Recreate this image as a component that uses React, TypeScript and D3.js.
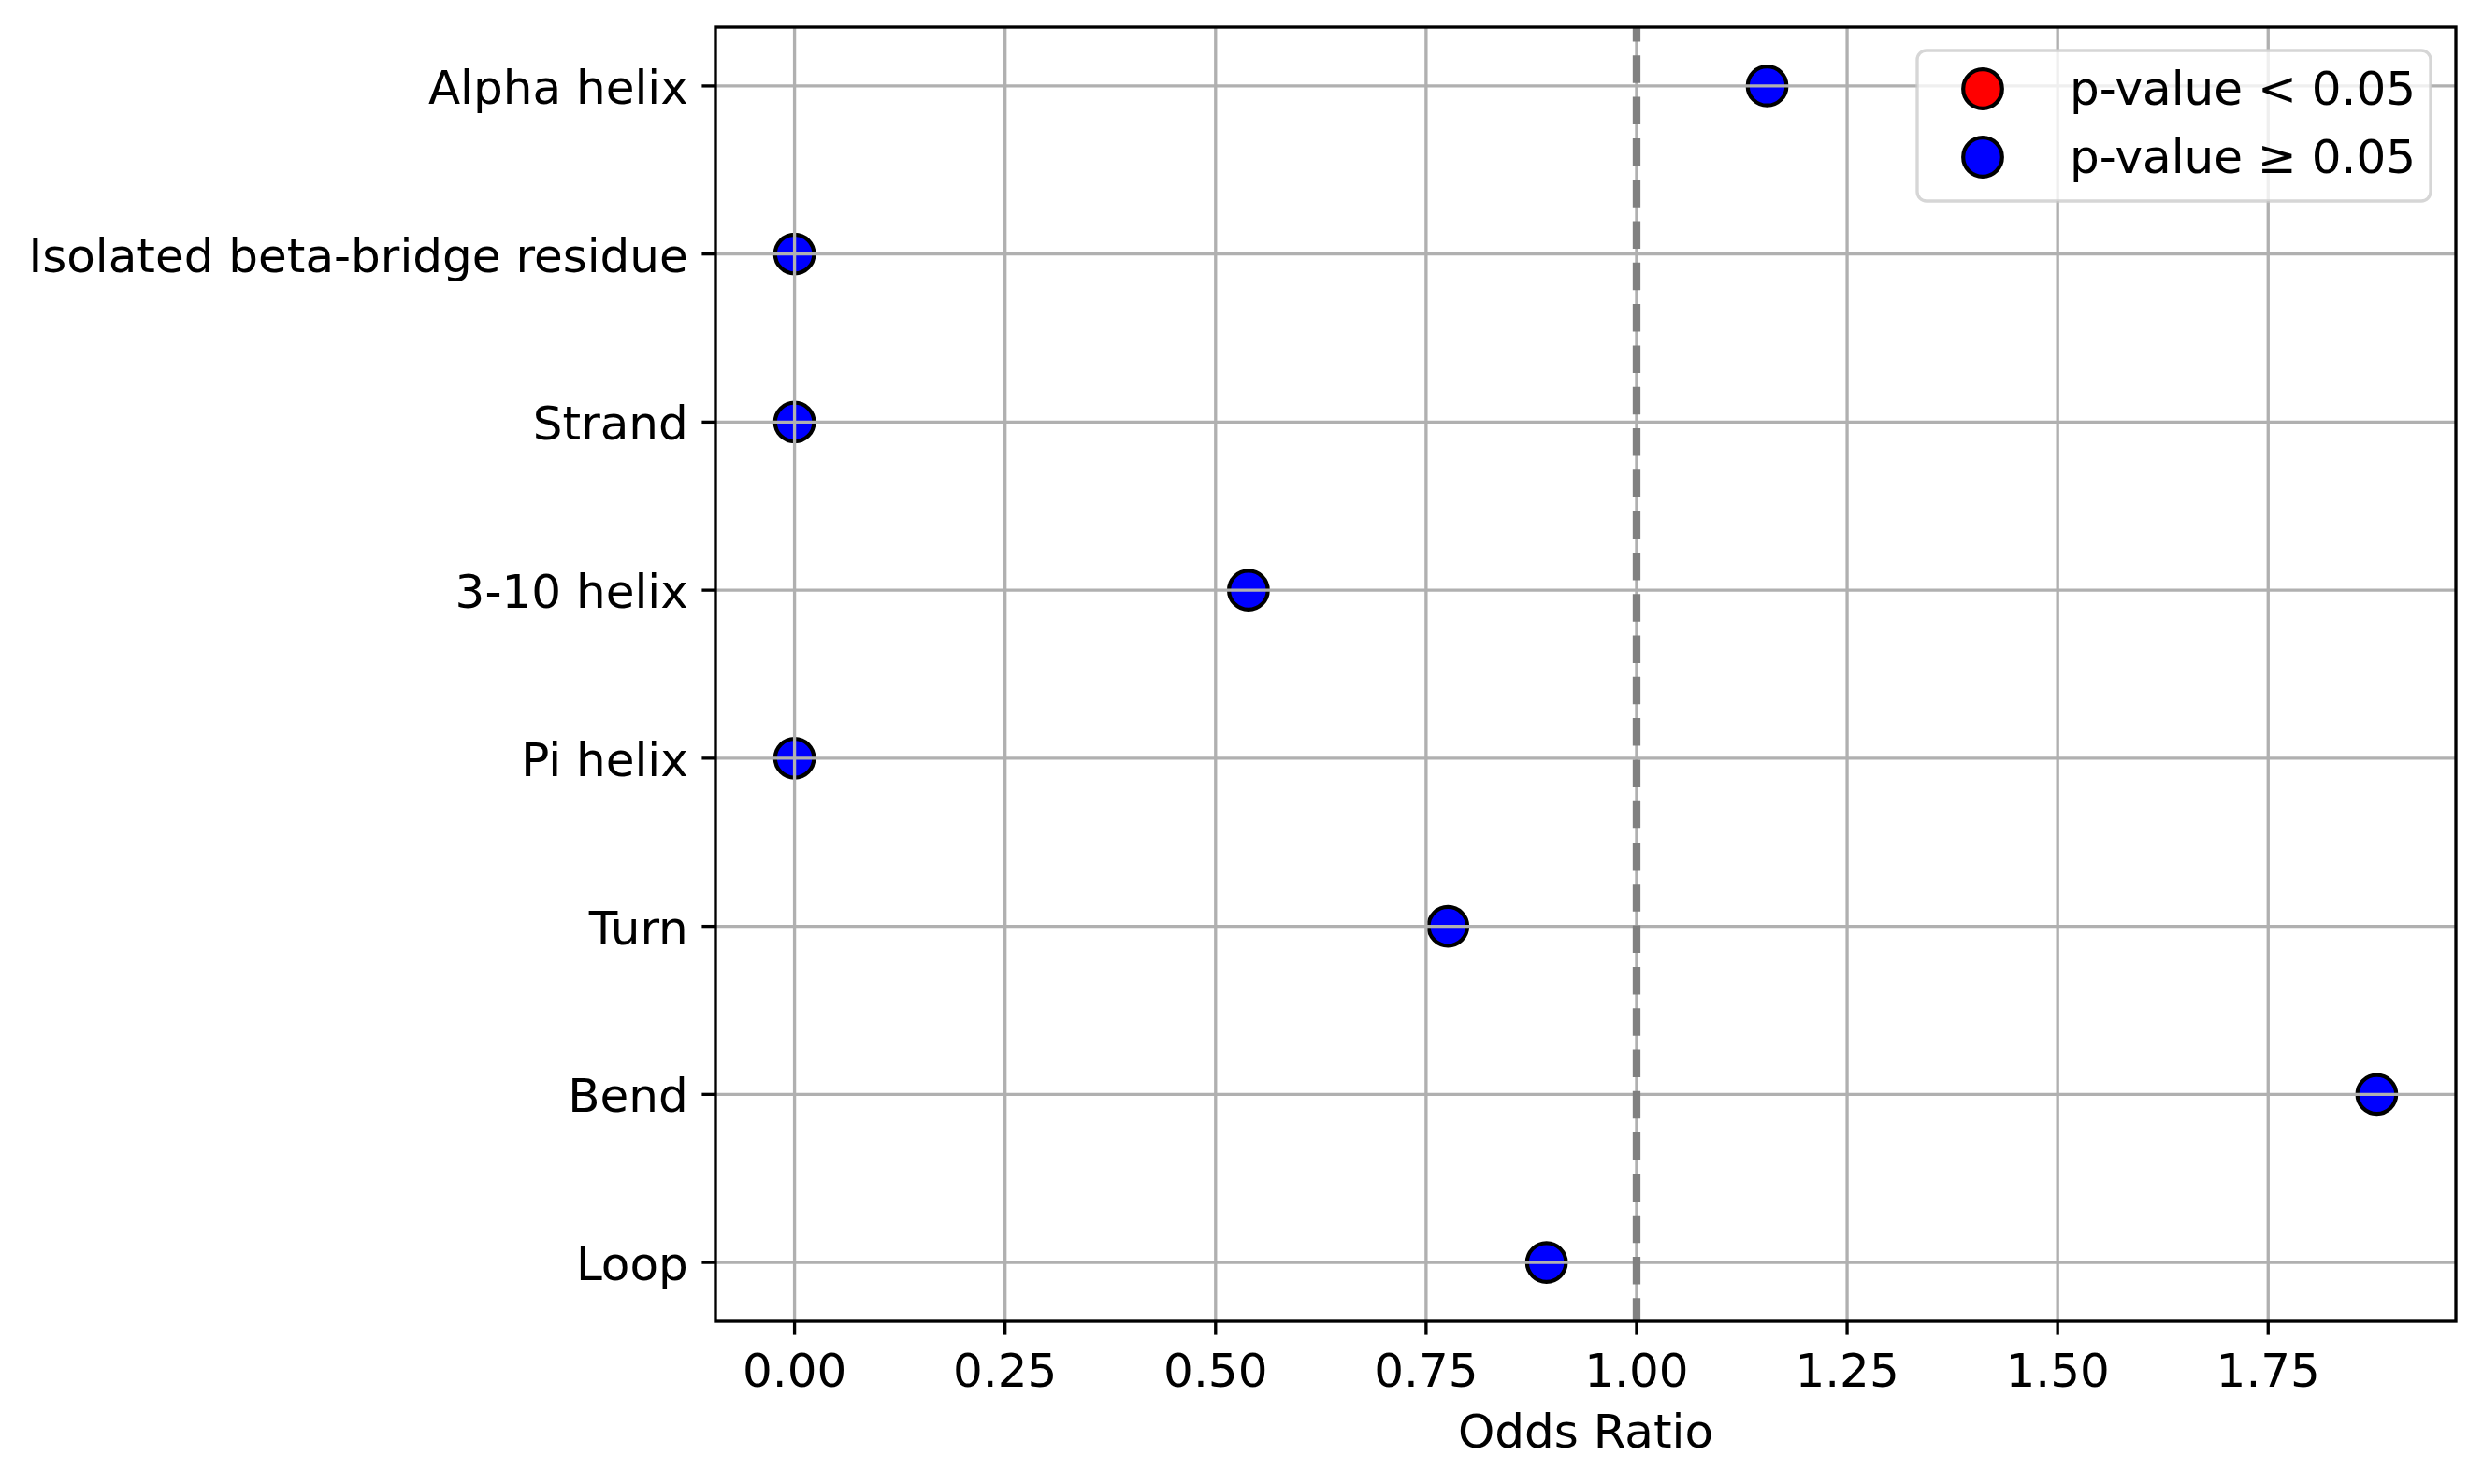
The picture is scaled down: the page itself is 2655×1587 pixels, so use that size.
import * as d3 from "d3";
import { useRef, useEffect } from "react";

// secondary structure categories, top to bottom
const categories = [
  "Alpha helix",
  "Isolated beta-bridge residue",
  "Strand",
  "3-10 helix",
  "Pi helix",
  "Turn",
  "Bend",
  "Loop",
];
const oddsRatios = [1.155, 0, 0, 0.539, 0, 0.776, 1.879, 0.893];
const pValues = [0.31, 1, 1, 0.62, 1, 0.55, 0.21, 0.72];
const xTicks = [0, 0.25, 0.5, 0.75, 1, 1.25, 1.5, 1.75];
const legendLabels = ["p-value < 0.05", "p-value \u2265 0.05"];
const legendColors = ["red", "blue"];

const W = 2655;
const H = 1587;
const FONT = "DejaVu Sans, sans-serif";

function App() {
  const ref = useRef<SVGSVGElement>(null);

  useEffect(() => {
    draw();
  }, []);

  const draw = () => {
    const svg = d3.select(ref.current);
    svg.selectAll("*").remove();

    const left = 765,
      right = 2626,
      top = 29,
      bottom = 1413;

    // matplotlib style 5% margins
    const xMax = d3.max(oddsRatios) as number;
    const xMin = d3.min(oddsRatios) as number;
    const pad = (xMax - xMin) * 0.05;
    const x = d3.scaleLinear().domain([xMin - pad, xMax + pad]).range([left, right]);
    const y = d3.scalePoint().domain(categories).range([top, bottom]).padding(0.35);

    const gridW = 3.33;

    // points (under the grid)
    svg
      .append("g")
      .selectAll("circle")
      .data(categories)
      .join("circle")
      .attr("cx", (d, i) => x(oddsRatios[i]))
      .attr("cy", (d) => y(d) as number)
      .attr("r", 20.8)
      .attr("fill", (d, i) => (pValues[i] < 0.05 ? "red" : "blue"))
      .attr("stroke", "black")
      .attr("stroke-width", 4.2);

    // grid
    const grid = svg.append("g").attr("stroke", "#b0b0b0").attr("stroke-width", gridW);
    grid
      .selectAll(".gx")
      .data(xTicks)
      .join("line")
      .attr("x1", (d) => x(d))
      .attr("x2", (d) => x(d))
      .attr("y1", top)
      .attr("y2", bottom);
    grid
      .selectAll(".gy")
      .data(categories)
      .join("line")
      .attr("x1", left)
      .attr("x2", right)
      .attr("y1", (d) => y(d) as number)
      .attr("y2", (d) => y(d) as number);

    // reference line at OR = 1
    svg
      .append("line")
      .attr("x1", x(1))
      .attr("x2", x(1))
      .attr("y1", top)
      .attr("y2", bottom)
      .attr("stroke", "gray")
      .attr("stroke-width", 8.3)
      .attr("stroke-dasharray", "29.5 14.8")
      .attr("stroke-dashoffset", 14);

    // spines
    svg
      .append("rect")
      .attr("x", left)
      .attr("y", top)
      .attr("width", right - left)
      .attr("height", bottom - top)
      .attr("fill", "none")
      .attr("stroke", "black")
      .attr("stroke-width", gridW);

    // x ticks + labels
    const tickLen = 14.6;
    const xt = svg.append("g");
    xt.selectAll("line")
      .data(xTicks)
      .join("line")
      .attr("x1", (d) => x(d))
      .attr("x2", (d) => x(d))
      .attr("y1", bottom)
      .attr("y2", bottom + tickLen)
      .attr("stroke", "black")
      .attr("stroke-width", gridW);
    xt.selectAll("text")
      .data(xTicks)
      .join("text")
      .attr("x", (d) => x(d))
      .attr("y", 1483)
      .attr("text-anchor", "middle")
      .attr("font-family", FONT)
      .attr("font-size", 50)
      .text((d) => d3.format(".2f")(d));

    // y ticks + labels
    const yt = svg.append("g");
    yt.selectAll("line")
      .data(categories)
      .join("line")
      .attr("x1", left - tickLen)
      .attr("x2", left)
      .attr("y1", (d) => y(d) as number)
      .attr("y2", (d) => y(d) as number)
      .attr("stroke", "black")
      .attr("stroke-width", gridW);
    yt.selectAll("text")
      .data(categories)
      .join("text")
      .attr("x", left - tickLen - 14.6)
      .attr("y", (d) => (y(d) as number) + 19)
      .attr("text-anchor", "end")
      .attr("font-family", FONT)
      .attr("font-size", 50)
      .text((d) => d);

    // axis label
    svg
      .append("text")
      .attr("x", (left + right) / 2)
      .attr("y", 1548)
      .attr("text-anchor", "middle")
      .attr("font-family", FONT)
      .attr("font-size", 50)
      .text("Odds Ratio");

    // legend
    const lg = svg.append("g");
    lg.append("rect")
      .attr("x", 2050)
      .attr("y", 54)
      .attr("width", 549)
      .attr("height", 161)
      .attr("rx", 10)
      .attr("fill", "white")
      .attr("fill-opacity", 0.8)
      .attr("stroke", "#cccccc")
      .attr("stroke-opacity", 0.8)
      .attr("stroke-width", gridW);
    const items = lg
      .selectAll("g")
      .data(legendLabels)
      .join("g")
      .attr("transform", (d, i) => `translate(0,${95 + i * 73})`);
    items
      .append("circle")
      .attr("cx", 2120)
      .attr("cy", 0)
      .attr("r", 20.8)
      .attr("fill", (d, i) => legendColors[i])
      .attr("stroke", "black")
      .attr("stroke-width", 4.2);
    items
      .append("text")
      .attr("x", 2213)
      .attr("y", 17)
      .attr("font-family", FONT)
      .attr("font-size", 50)
      .text((d) => d);
  };

  return (
    <svg
      ref={ref}
      width={W}
      height={H}
      style={{ position: "absolute", left: 0, top: 0, background: "white" }}
    ></svg>
  );
}

export default App;
